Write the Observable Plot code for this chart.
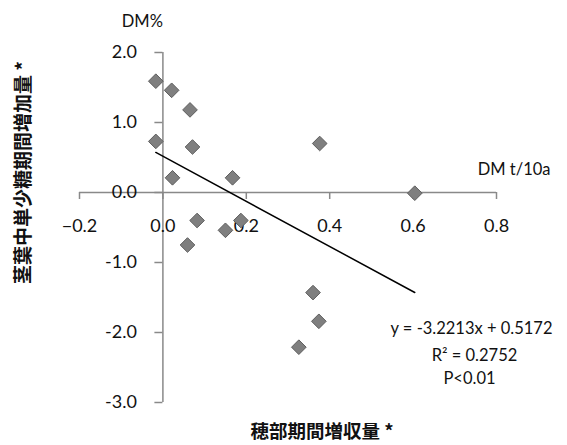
<!DOCTYPE html>
<html><head><meta charset="utf-8">
<script src="https://cdn.jsdelivr.net/npm/d3@7"></script>
<script src="https://cdn.jsdelivr.net/npm/@observablehq/plot@0.6"></script>
<style>
body{margin:0;background:#fff}
#chart svg{font-family:Lato,"Noto Sans CJK JP",sans-serif;background:#fff}
</style>
</head><body><div id="chart"></div>
<script>
// data
const xValues = [-0.017, 0.021, 0.065, -0.017, 0.071, 0.023, 0.167, 0.376, 0.604, 0.082, 0.059, 0.150, 0.187, 0.360, 0.374, 0.326];
const yValues = [1.59, 1.46, 1.18, 0.73, 0.65, 0.21, 0.21, 0.70, -0.01, -0.40, -0.75, -0.54, -0.40, -1.43, -1.84, -2.21];
const slope = -3.2213;
const intercept = 0.5172;
const xTicks = [-0.2, 0, 0.2, 0.4, 0.6, 0.8];
const xTickLabels = ["\u22120.2", "0.0", "0.2", "0.4", "0.6", "0.8"];
const yTicks = [2, 1, 0, -1, -2, -3];
const yTickLabels = ["2.0", "1.0", "0.0", "-1.0", "-2.0", "-3.0"];
const xTitle = "穂部期間増収量 *";
const yTitle = "茎葉中単少糖期間増加量 *";
const xUnit = "DM t/10a";
const yUnit = "DM%";
const eqLines = ["y = -3.2213x + 0.5172", "R\u00B2 = 0.2752", "P<0.01"];

const points = xValues.map((x, i) => ({x, y: yValues[i]}));
const xMin = d3.min(xValues), xMax = d3.max(xValues);
const fitLine = [xMin, xMax].map(x => ({x, y: slope * x + intercept}));

const axisColor = "#898989";
const latin = "Lato, sans-serif";
const cjk = "'Noto Sans CJK JP', sans-serif";

const chart = Plot.plot({
  width: 567, height: 445,
  marginLeft: 79, marginRight: 71, marginTop: 52, marginBottom: 43,
  x: {domain: [-0.2, 0.8], axis: null},
  y: {domain: [-3, 2], axis: null},
  marks: [
    // axis lines crossing at origin
    Plot.ruleY([0], {x1: xTicks[0], x2: xTicks[xTicks.length - 1], stroke: axisColor, strokeWidth: 1.5}),
    Plot.ruleX([0], {y1: yTicks[yTicks.length - 1], y2: yTicks[0], stroke: axisColor, strokeWidth: 1.5}),
    // tick marks
    Plot.ruleX(xTicks, {x: d => d, y1: 0, y2: 0, insetBottom: -7, stroke: axisColor, strokeWidth: 1.5}),
    Plot.ruleY(yTicks, {y: d => d, x1: 0, x2: 0, insetRight: 8, stroke: axisColor, strokeWidth: 1.5}),
    // tick labels
    Plot.text(xTicks, {x: d => d, y: 0, text: (d, i) => xTickLabels[i], dy: 34, fontSize: 18, fill: "#111", fontFamily: latin}),
    Plot.text(yTicks, {x: 0, y: d => d, text: (d, i) => yTickLabels[i], dx: -26, textAnchor: "end", fontSize: 18, fill: "#111", fontFamily: latin}),
    // units
    Plot.text([yUnit], {x: 0, y: yTicks[0], text: d => d, dy: -31, textAnchor: "end", fontSize: 16.5, fill: "#111", fontFamily: latin}),
    Plot.text([xUnit], {x: xTicks[xTicks.length - 1], y: 0, text: d => d, dx: 54, dy: -23, textAnchor: "end", fontSize: 16.5, fill: "#111", fontFamily: latin}),
    // data
    Plot.dot(points, {x: "x", y: "y", symbol: "diamond2", r: 6.6, fill: "#7f7f7f", stroke: "#5e5e5e", strokeWidth: 1}),
    Plot.line(fitLine, {x: "x", y: "y", stroke: "#000", strokeWidth: 1.5}),
    // equation
    Plot.text([eqLines[0]], {x: xTicks[xTicks.length - 1], y: yTicks[yTicks.length - 1], text: d => d, dx: -25, dy: -74, fontSize: 16.5, fill: "#111", fontFamily: latin}),
    Plot.text([eqLines[1]], {x: xTicks[xTicks.length - 1], y: yTicks[yTicks.length - 1], text: d => d, dx: -22, dy: -47, fontSize: 16.5, fill: "#111", fontFamily: latin}),
    Plot.text([eqLines[2]], {x: xTicks[xTicks.length - 1], y: yTicks[yTicks.length - 1], text: d => d, dx: -27, dy: -24, fontSize: 16.5, fill: "#111", fontFamily: latin}),
    // titles
    Plot.text([xTitle], {frameAnchor: "bottom", textAnchor: "middle", lineAnchor: "middle", text: d => d, dx: 34, dy: 30, fontSize: 18.5, fontWeight: "bold", fill: "#111", fontFamily: cjk}),
    Plot.text([yTitle], {frameAnchor: "left", textAnchor: "middle", lineAnchor: "middle", text: d => d, rotate: -90, dx: -56, dy: -55, fontSize: 19, fontWeight: "bold", fill: "#111", fontFamily: cjk})
  ]
});
document.getElementById("chart").appendChild(chart);
</script>
</body></html>
